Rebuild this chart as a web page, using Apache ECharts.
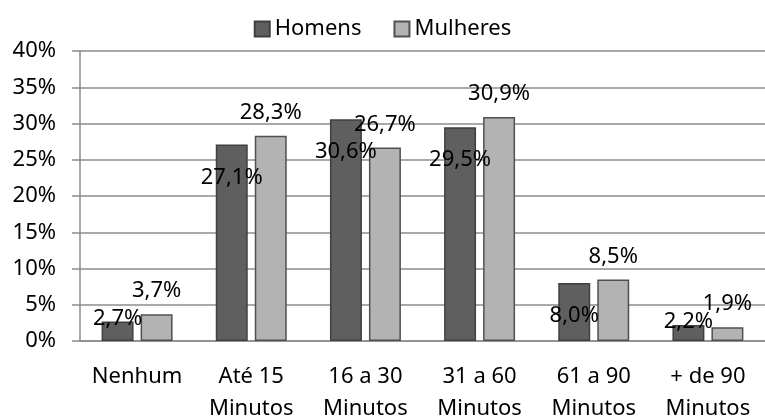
<!DOCTYPE html>
<html>
<head>
<meta charset="utf-8">
<script src="https://cdn.jsdelivr.net/npm/echarts@6/dist/echarts.min.js"></script>
<style>
  html, body { margin: 0; padding: 0; background: #fff; }
  #chart { width: 765px; height: 418px; }
</style>
</head>
<body>
<div id="chart"></div>
<script>
// Dados
var categorias = ['Nenhum', 'Até 15\nMinutos', '16 a 30\nMinutos', '31 a 60\nMinutos', '61 a 90\nMinutos', '+ de 90\nMinutos'];
var homens = [2.7, 27.1, 30.6, 29.5, 8.0, 2.2];
var mulheres = [3.7, 28.3, 26.7, 30.9, 8.5, 1.9];
var yTicks = [0, 5, 10, 15, 20, 25, 30, 35, 40];

var fonte = 'Noto Sans';
var tam = 22;

function rotulo(v) {
    return v.toFixed(1).replace('.', ',') + '%';
}

// Homens: rótulo dentro da barra, perto do topo (barras baixas: em cima)
var homensData = homens.map(function (v) {
    var lbl = v < 5
        ? { position: 'top', distance: 5, offset: [0, 13] }
        : { position: 'insideTop', distance: 5, offset: [0, 17] };
    return { value: v, label: lbl };
});

var chart = echarts.init(document.getElementById('chart'));
var option = {
    animation: false,
    textStyle: { fontFamily: fonte },
    legend: {
        top: 13,
        left: 'center',
        itemWidth: 15,
        itemHeight: 15,
        itemGap: 32,
        icon: 'rect',
        textStyle: { fontFamily: fonte, fontSize: tam, color: '#000' },
        data: ['Homens', 'Mulheres']
    },
    grid: { left: 80, right: 0, top: 51, bottom: 77, outerBoundsMode: 'none', containLabel: false },
    xAxis: {
        type: 'category',
        data: categorias,
        axisLine: { lineStyle: { color: '#8c8c8c', width: 1.5 } },
        axisTick: { show: false },
        axisLabel: {
            color: '#000',
            fontFamily: fonte,
            fontSize: tam,
            lineHeight: 32,
            margin: 20,
            interval: 0
        }
    },
    yAxis: {
        type: 'value',
        min: yTicks[0],
        max: yTicks[yTicks.length - 1],
        interval: 5,
        axisLine: { show: true, lineStyle: { color: '#8c8c8c', width: 1.5 } },
        axisTick: { show: true, length: 8, lineStyle: { color: '#8c8c8c', width: 1.5 } },
        splitLine: { lineStyle: { color: '#8c8c8c', width: 1.5 } },
        axisLabel: {
            color: '#000',
            fontFamily: fonte,
            fontSize: tam,
            margin: 24,
            formatter: function (v) { return v + '%'; }
        }
    },
    series: [
        {
            name: 'Homens',
            type: 'bar',
            data: homensData,
            barWidth: '28%',
            barGap: '22%',
            itemStyle: { color: '#5f5f5f', borderColor: '#404040', borderWidth: 1.5 },
            label: {
                show: true,
                color: '#000',
                fontFamily: fonte,
                fontSize: tam,
                formatter: function (p) { return rotulo(p.value); }
            }
        },
        {
            name: 'Mulheres',
            type: 'bar',
            data: mulheres,
            barWidth: '28%',
            itemStyle: { color: '#b3b3b3', borderColor: '#505050', borderWidth: 1.5 },
            label: {
                show: true,
                position: 'top',
                distance: 12,
                color: '#000',
                fontFamily: fonte,
                fontSize: tam,
                formatter: function (p) { return rotulo(p.value); }
            }
        }
    ]
};
chart.setOption(option);

window.addEventListener('resize', function () {
    chart.resize();
});
</script>
</body>
</html>
